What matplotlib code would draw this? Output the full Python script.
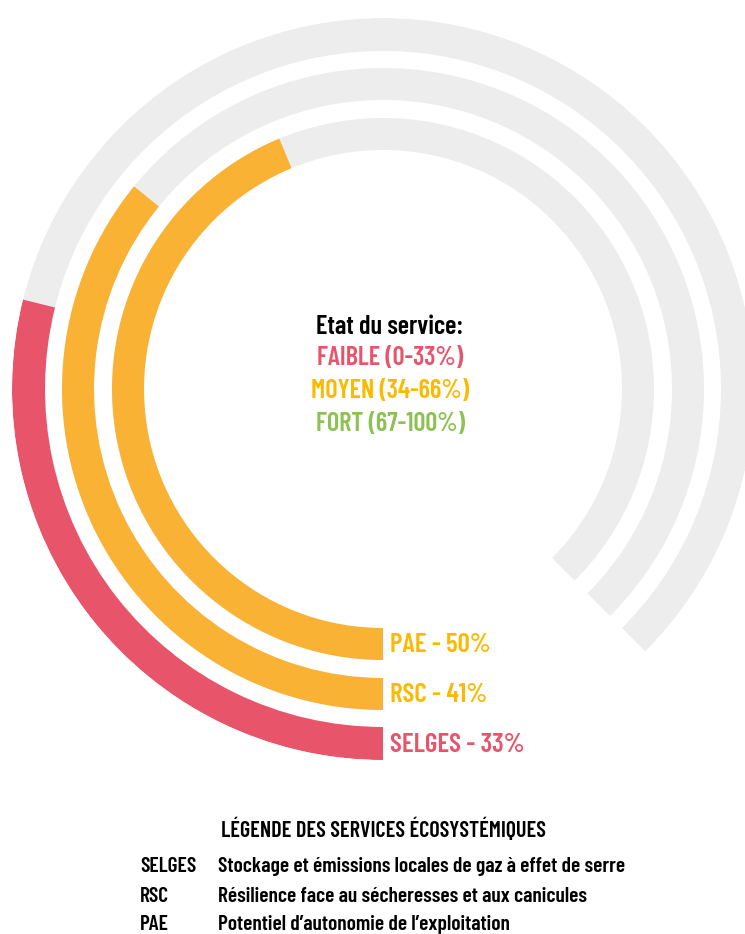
import numpy as np
import matplotlib.pyplot as plt

# data
services = ['PAE', 'RSC', 'SELGES']
values = [50, 41, 33]
bar_colors = ['#F9B233', '#F9B233', '#E8546A']
label_colors = ['#FBBA00', '#FBBA00', '#E8546A']
descriptions = {
    'SELGES': "Stockage et émissions locales de gaz à effet de serre",
    'RSC': "Résilience face au sécheresses et aux canicules",
    'PAE': "Potentiel d\u2019autonomie de l\u2019exploitation",
}
status_lines = ['Etat du service:', 'FAIBLE (0-33%)', 'MOYEN (34-66%)', 'FORT (67-100%)']
status_colors = ['black', '#E8546A', '#FBBA00', '#8DC153']

W, H = 745, 934
plt.rcParams['font.family'] = ['Barlow Condensed', 'DejaVu Sans']

fig = plt.figure(figsize=(W / 100, H / 100), dpi=100)

# polar axes centred on the ring centre (pixels)
cx, cy, rmax = 383, 389, 371
ax = fig.add_axes([(cx - rmax) / W, (H - cy - rmax) / H, 2 * rmax / W, 2 * rmax / H],
                  projection='polar')
ax.set_theta_zero_location('S')
ax.set_theta_direction(-1)
ax.set_ylim(0, rmax)
ax.axis('off')

span = np.deg2rad(315)
inner = [239, 289, 338]
thick = [32, 32, 33]
for i, v in enumerate(values):
    ax.bar(0, thick[i], width=span, bottom=inner[i], align='edge',
           color='#EDEDED', linewidth=0)
    ax.bar(0, thick[i], width=span * v / 100, bottom=inner[i], align='edge',
           color=bar_colors[i], linewidth=0)

# bar labels
for i, (s, v) in enumerate(zip(services, values)):
    y = cy + inner[i] + thick[i] / 2 + 1
    fig.text(390 / W, 1 - y / H, f'{s} - {v}%', color=label_colors[i],
             fontsize=19.5, fontweight=600, ha='left', va='center')

# centre text
for j, (t, c) in enumerate(zip(status_lines, status_colors)):
    y = [327, 358, 391, 424][j]
    fig.text(390 / W, 1 - y / H, t, color=c, fontsize=19, fontweight=600,
             ha='center', va='center')

# legend block
fig.text(383 / W, 1 - 829 / H, 'LÉGENDE DES SERVICES ÉCOSYSTÉMIQUES',
         fontsize=16, fontweight=600, ha='center', va='center')
for k, s in enumerate(['SELGES', 'RSC', 'PAE']):
    y = [867, 896, 924][k]
    fig.text(140 / W, 1 - y / H, s, fontsize=15.5, fontweight=600, va='center')
    fig.text(218 / W, 1 - y / H, descriptions[s], fontsize=15.5, fontweight=600,
             va='center')

fig.savefig('out.png', dpi=100)
